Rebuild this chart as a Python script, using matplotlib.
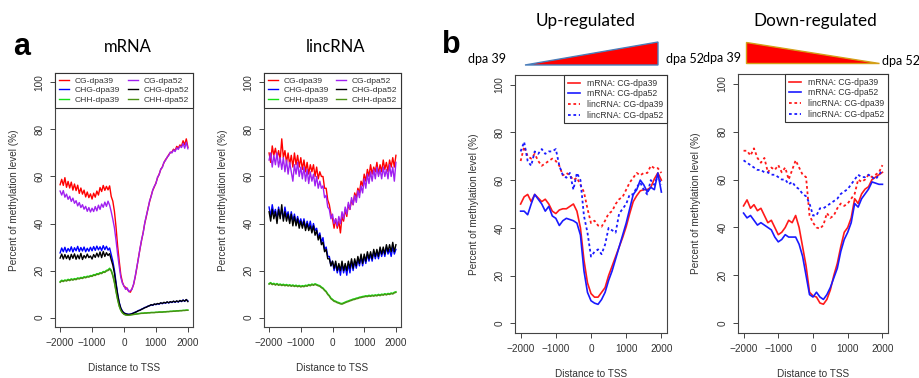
import matplotlib.pyplot as plt
from matplotlib.patches import Polygon
import numpy as np

plt.rcParams['font.family'] = ['Liberation Sans', 'DejaVu Sans']

W, H = 920, 378

# panel a: distance to TSS every 50 bp
pos_a = np.arange(-2000, 2001, 50)

mrna_cg39 = [56.5, 58.8, 56.2, 59.5, 55.4, 57.9, 55.1, 57.6, 54.2, 56.8,
             54.0, 56.3, 52.8, 55.1, 52.5, 54.2, 51.3, 53.4, 51.0, 52.6,
             50.4, 52.9, 51.2, 53.8, 52.1, 55.3, 53.6, 56.2, 54.1, 55.8,
             54.3, 56.0, 51.5, 49.5, 45.2, 38.6, 30.5, 24.1, 18.2, 15.1,
             13.3, 12.9, 12.1, 11.2, 10.8, 12.3, 14.0, 17.2, 21.0, 25.3,
             29.1, 32.8, 36.2, 40.1, 43.0, 46.4, 49.2, 51.8, 54.1, 55.6,
             57.3, 59.4, 61.0, 62.9, 64.1, 65.8, 67.2, 68.0, 69.3, 70.1,
             70.4, 71.6, 71.0, 72.8, 72.1, 73.4, 72.9, 75.2, 73.5, 76.0,
             72.4]
mrna_cg52 = [53.8, 52.1, 54.0, 51.2, 52.5, 50.3, 51.6, 49.4, 50.8, 48.6,
             49.7, 47.5, 48.9, 46.8, 48.0, 46.1, 47.3, 45.2, 46.8, 44.9,
             46.5, 45.1, 47.2, 45.4, 47.8, 46.0, 48.3, 46.9, 49.1, 47.3,
             49.5, 47.8, 45.0, 41.8, 38.2, 32.9, 27.0, 21.8, 17.1, 14.6,
             13.4, 12.0, 12.6, 11.0, 11.5, 12.0, 14.3, 17.5, 21.4, 25.0,
             29.4, 33.1, 36.0, 40.3, 43.4, 46.1, 49.6, 51.5, 54.3, 55.9,
             57.0, 59.8, 60.7, 63.2, 63.8, 66.1, 66.8, 68.3, 68.9, 70.4,
             70.0, 71.3, 70.6, 72.2, 71.5, 72.9, 72.3, 74.1, 72.0, 74.6,
             71.8]
mrna_chg39 = [27.5, 29.6, 28.0, 29.9, 27.8, 29.4, 28.2, 30.1, 27.9, 29.7,
              28.4, 30.3, 28.1, 29.8, 28.3, 30.0, 28.0, 29.5, 28.2, 29.9,
              28.4, 30.2, 28.6, 30.4, 28.8, 30.1, 28.5, 30.6, 28.9, 30.3,
              28.7, 29.6, 26.8, 24.0, 20.2, 15.0, 10.2, 6.5, 4.1, 2.8,
              2.0, 1.7, 1.5, 1.4, 1.5, 1.7, 2.0, 2.3, 2.6, 3.0,
              3.2, 3.6, 3.9, 4.3, 4.5, 4.9, 5.0, 5.4, 5.2, 5.7,
              5.5, 5.9, 5.7, 6.2, 5.9, 6.4, 6.1, 6.6, 6.2, 6.7,
              6.4, 6.9, 6.5, 7.0, 6.6, 7.2, 6.8, 7.5, 6.9, 7.6,
              7.1]
mrna_chg52 = [25.3, 27.0, 24.9, 26.8, 25.1, 26.5, 24.6, 26.9, 25.2, 27.1,
              24.8, 26.6, 25.0, 27.3, 24.7, 26.4, 25.3, 27.0, 25.5, 26.2,
              24.9, 26.8, 25.6, 27.4, 25.8, 27.9, 25.5, 28.1, 26.0, 27.6,
              26.4, 27.2, 24.6, 22.3, 18.9, 14.2, 9.8, 6.2, 3.9, 2.6,
              1.9, 1.6, 1.4, 1.3, 1.4, 1.6, 1.9, 2.2, 2.5, 2.9,
              3.1, 3.5, 3.8, 4.2, 4.4, 4.8, 5.1, 5.5, 5.3, 5.8,
              5.6, 6.0, 5.8, 6.3, 6.0, 6.5, 6.2, 6.7, 6.3, 6.8,
              6.5, 7.0, 6.6, 7.1, 6.7, 7.3, 6.9, 7.4, 7.0, 7.7,
              6.8]
mrna_chh39 = [15.3, 15.9, 15.6, 16.0, 15.8, 16.3, 16.0, 16.5, 16.2, 16.6,
              16.4, 16.9, 16.7, 17.1, 16.9, 17.4, 17.2, 17.6, 17.5, 17.9,
              17.8, 18.3, 18.2, 18.7, 18.6, 19.1, 19.0, 19.6, 19.5, 20.1,
              20.3, 21.0, 20.2, 18.1, 15.2, 11.4, 7.9, 5.0, 3.2, 2.1,
              1.5, 1.2, 1.1, 1.1, 1.2, 1.3, 1.4, 1.5, 1.6, 1.7,
              1.8, 1.9, 1.9, 2.0, 2.0, 2.1, 2.1, 2.2, 2.2, 2.2,
              2.3, 2.3, 2.4, 2.4, 2.4, 2.5, 2.5, 2.6, 2.6, 2.7,
              2.7, 2.8, 2.8, 2.9, 2.9, 3.0, 3.0, 3.1, 3.1, 3.2,
              3.2]
mrna_chh52 = [15.0, 15.6, 15.3, 15.8, 15.5, 16.0, 15.7, 16.2, 15.9, 16.3,
              16.1, 16.6, 16.4, 16.8, 16.6, 17.1, 16.9, 17.3, 17.2, 17.6,
              17.5, 18.0, 17.9, 18.4, 18.3, 18.8, 18.7, 19.3, 19.2, 19.8,
              20.0, 20.6, 19.8, 17.7, 14.8, 11.0, 7.6, 4.8, 3.0, 2.0,
              1.4, 1.1, 1.0, 1.0, 1.1, 1.2, 1.3, 1.4, 1.5, 1.6,
              1.7, 1.8, 1.8, 1.9, 1.9, 2.0, 2.0, 2.1, 2.1, 2.1,
              2.2, 2.2, 2.3, 2.3, 2.3, 2.4, 2.4, 2.5, 2.5, 2.6,
              2.6, 2.7, 2.7, 2.8, 2.8, 2.9, 2.9, 3.0, 3.0, 3.1,
              3.1]

linc_cg39 = [70, 66, 73, 69, 72, 68, 71, 67, 76, 68,
             71, 66, 70, 65, 69, 64, 70, 65, 69, 64,
             68, 63, 67, 62, 66, 61, 65, 62, 65, 60,
             64, 59, 62, 60, 60, 55, 55, 50, 48, 44,
             42, 38, 42, 38, 41, 36, 43, 41, 46, 43,
             48, 46, 50, 48, 53, 51, 55, 53, 58, 56,
             61, 58, 63, 60, 65, 61, 64, 62, 66, 61,
             65, 62, 67, 63, 66, 62, 67, 64, 68, 64,
             69]
linc_cg52 = [67, 70, 64, 69, 65, 70, 64, 68, 63, 68,
             62, 67, 61, 66, 62, 58, 65, 61, 66, 60,
             64, 59, 64, 58, 63, 57, 62, 58, 61, 56,
             60, 55, 58, 55, 56, 51, 52, 47, 46, 42,
             44, 40, 42, 39, 43, 40, 45, 42, 47, 44,
             49, 46, 51, 48, 52, 49, 54, 51, 56, 53,
             59, 55, 61, 57, 62, 58, 63, 59, 64, 60,
             63, 59, 64, 60, 63, 59, 65, 60, 64, 58,
             66]
linc_chg39 = [47, 43, 48, 44, 46, 42, 47, 43, 46, 42,
              47, 43, 45, 41, 45, 41, 44, 40, 43, 40,
              42, 39, 42, 38, 41, 38, 41, 37, 40, 37,
              38, 34, 36, 32, 34, 29, 30, 26, 26, 22,
              24, 20, 23, 19, 22, 18, 23, 19, 22, 18,
              23, 19, 24, 20, 24, 21, 25, 22, 26, 22,
              26, 23, 27, 24, 27, 24, 28, 25, 28, 25,
              29, 26, 29, 26, 30, 27, 29, 26, 30, 27,
              29]
linc_chg52 = [45, 41, 46, 42, 45, 40, 46, 42, 48, 41,
              45, 41, 44, 40, 44, 39, 43, 39, 42, 38,
              41, 38, 41, 37, 40, 37, 39, 36, 39, 35,
              37, 33, 35, 31, 32, 28, 29, 25, 25, 22,
              24, 21, 24, 20, 23, 20, 24, 20, 23, 20,
              24, 21, 25, 21, 25, 22, 26, 23, 27, 23,
              27, 24, 28, 25, 28, 25, 29, 26, 29, 26,
              30, 27, 30, 27, 31, 28, 31, 28, 32, 28,
              31]
linc_chh39 = [14.5, 14.9, 14.3, 14.6, 14.1, 14.5, 14.0, 14.3, 13.9, 14.2,
              13.8, 14.1, 13.7, 14.0, 13.6, 13.9, 13.5, 13.8, 13.4, 13.7,
              13.3, 13.6, 13.4, 13.8, 13.6, 14.1, 13.8, 14.3, 14.0, 14.4,
              14.1, 13.8, 13.6, 13.0, 12.6, 11.8, 11.2, 10.1, 9.4, 8.3,
              7.8, 7.2, 7.0, 6.6, 6.4, 6.1, 6.0, 6.3, 6.6, 6.9,
              7.1, 7.4, 7.6, 7.9, 8.0, 8.3, 8.4, 8.7, 8.8, 9.0,
              9.1, 9.3, 9.2, 9.5, 9.3, 9.6, 9.4, 9.7, 9.5, 9.9,
              9.6, 10.0, 9.8, 10.2, 9.9, 10.3, 10.1, 10.5, 10.3, 10.8,
              11.0]
linc_chh52 = [14.2, 14.6, 14.0, 14.3, 13.8, 14.2, 13.7, 14.0, 13.6, 13.9,
              13.5, 13.8, 13.4, 13.7, 13.3, 13.6, 13.2, 13.5, 13.1, 13.4,
              13.0, 13.3, 13.1, 13.5, 13.3, 13.8, 13.5, 14.0, 13.7, 14.1,
              13.8, 13.5, 13.3, 12.7, 12.3, 11.5, 10.9, 9.8, 9.1, 8.0,
              7.5, 6.9, 6.7, 6.3, 6.1, 5.8, 5.7, 6.0, 6.3, 6.6,
              6.8, 7.1, 7.3, 7.6, 7.7, 8.0, 8.1, 8.4, 8.5, 8.7,
              8.8, 9.0, 8.9, 9.2, 9.0, 9.3, 9.1, 9.4, 9.2, 9.6,
              9.3, 9.7, 9.5, 9.9, 9.6, 10.0, 9.8, 10.2, 10.0, 10.5,
              10.7]

# panel b: distance to TSS every 100 bp
pos_b = np.arange(-2000, 2001, 100)

up_mrna39 = [50, 53, 54, 51, 54, 52.5, 51, 52, 50, 47, 46, 47.5, 48, 48, 49, 50, 47, 40, 26.5, 17,
             12.5, 11, 11, 13, 15, 20, 24, 28, 32, 36, 40.5, 46, 51, 53.5, 55.5, 56, 56, 57, 60.5, 63, 60]
up_mrna52 = [47, 47, 45.5, 50, 54, 52, 50, 47, 49, 45, 44, 41, 43, 44, 43.5, 43, 42, 37, 22, 13,
             9.5, 8.5, 8, 10, 13, 18, 22, 27, 32, 37, 42, 48, 54, 56, 60, 58, 55, 57, 56, 63, 55]
up_linc39 = [68, 74, 70, 69, 71, 68, 66, 67, 68, 69, 68, 66, 62, 63, 62, 60, 61, 58, 55, 48,
             42, 43, 41, 40.5, 43, 46, 47, 50, 52, 53, 56, 59, 61, 63, 62, 63, 63, 66, 65, 65, 63]
up_linc52 = [72, 76, 68, 66, 72, 71, 73, 71, 72, 72, 73, 66, 62, 61, 63, 56, 63, 60, 45, 38,
             28, 30, 31, 29, 33, 40, 39, 38, 46, 48, 50, 54, 54, 57, 59, 56, 54, 60, 58, 62, 58]

down_mrna39 = [49, 51.5, 48, 49.5, 47, 48, 45, 42, 43, 40, 37, 38, 40, 43, 42, 45, 40, 32, 24, 13,
               11.5, 11, 8.5, 8, 10, 14, 20, 25, 32, 38, 40, 44, 52, 50, 54, 56, 57, 60, 61, 62, 63]
down_mrna52 = [46, 44, 45, 43, 41, 42, 41, 40, 39, 36, 34, 35, 37, 36, 36, 36, 33, 28, 20, 12,
               11, 13, 11, 10, 12, 15, 19, 23, 30, 35, 38, 42, 50, 48.5, 52, 54, 56, 59, 58.5, 58, 58]
down_linc39 = [72, 72, 70, 73, 69, 67, 69, 63, 65, 64, 66, 63, 65, 60, 64, 68, 65, 62, 61, 45,
               42, 40, 39.5, 41, 46, 44, 45, 48, 50, 49, 50, 52, 54, 60, 59, 60, 62, 61, 62, 63, 66]
down_linc52 = [68, 67, 66, 65, 64, 64, 63, 63, 62, 62, 61, 60, 60, 58, 59, 57, 56, 54, 53, 50,
               45, 45, 48, 48, 49, 50, 51, 52, 54, 55, 56, 58, 60, 62, 61, 61, 62, 61, 60, 62, 64]

labels_a = ['CG-dpa39', 'CHG-dpa39', 'CHH-dpa39', 'CG-dpa52', 'CHG-dpa52', 'CHH-dpa52']
colors_a = ['#ff0000', '#0000ff', '#14e014', '#a020f0', '#000000', '#4a8f14']
labels_b = ['mRNA: CG-dpa39', 'mRNA: CG-dpa52', 'lincRNA: CG-dpa39', 'lincRNA: CG-dpa52']

TXT = '#333333'
FS = 7.2

fig = plt.figure(figsize=(W / 100, H / 100), dpi=100)


def px_axes(left, top, right, bottom):
    return fig.add_axes([left / W, 1 - bottom / H, (right - left) / W, (bottom - top) / H])


def fig_text(x, y, s, **kw):
    fig.text(x / W, 1 - y / H, s, **kw)


def style_axes(ax, ylab_x, xlab_y):
    ax.set_xlim(-2160, 2160)
    ax.set_ylim(-4, 104)
    ax.set_xticks([-2000, -1000, 0, 1000, 2000])
    ax.set_yticks([0, 20, 40, 60, 80, 100])
    ax.tick_params(labelsize=FS, length=3.5, width=0.7, color='#444444',
                   labelcolor=TXT)
    ax.tick_params(axis='x', pad=4.5)
    ax.tick_params(axis='y', pad=4, labelrotation=90)
    plt.setp(ax.get_yticklabels(), va='center')
    for sp in ax.spines.values():
        sp.set_color('#444444')
        sp.set_linewidth(0.8)
    ax.set_xlabel('Distance to TSS', fontsize=FS, color=TXT)
    ax.set_ylabel('Percent of methylation level (%)', fontsize=FS, color=TXT)
    ax.yaxis.set_label_coords(ylab_x, 0.5)
    ax.xaxis.set_label_coords(0.5, xlab_y)


def panel_a(ax, series):
    for vals, col, lab in zip(series, colors_a, labels_a):
        ax.plot(pos_a, vals, color=col, lw=1.0, label=lab)
    leg = ax.legend(ncol=2, loc='upper left', bbox_to_anchor=(0, 0, 1, 1), mode='expand',
                    borderaxespad=0, fontsize=6.1, handlelength=1.2, handletextpad=0.7,
                    labelspacing=0.2, columnspacing=0.8, borderpad=0.45,
                    fancybox=False, framealpha=1, edgecolor='#333333')
    leg.get_frame().set_linewidth(0.8)
    for t in leg.get_texts():
        t.set_color(TXT)


def panel_b(ax, m39, m52, l39, l52):
    ax.plot(pos_b, m39, color='#ff1a1a', lw=1.2, label=labels_b[0])
    ax.plot(pos_b, m52, color='#1a1aff', lw=1.2, label=labels_b[1])
    ax.plot(pos_b, l39, color='#ff1a1a', lw=1.3, ls=(0, (1.5, 1.5)), label=labels_b[2])
    ax.plot(pos_b, l52, color='#1a1aff', lw=1.3, ls=(0, (1.5, 1.5)), label=labels_b[3])
    leg = ax.legend(loc='upper right', borderaxespad=0, fontsize=6.2, handlelength=1.4,
                    handletextpad=0.8, labelspacing=0.18, borderpad=0.45,
                    fancybox=False, framealpha=1, edgecolor='#333333')
    leg.get_frame().set_linewidth(0.8)
    for t in leg.get_texts():
        t.set_color(TXT)


ax1 = px_axes(55, 73, 193, 327)
panel_a(ax1, [mrna_cg39, mrna_chg39, mrna_chh39, mrna_cg52, mrna_chg52, mrna_chh52])
style_axes(ax1, -0.26, -0.14)

ax2 = px_axes(264, 73, 401, 327)
panel_a(ax2, [linc_cg39, linc_chg39, linc_chh39, linc_cg52, linc_chg52, linc_chh52])
style_axes(ax2, -0.26, -0.14)

ax3 = px_axes(515, 75, 667, 333)
panel_b(ax3, up_mrna39, up_mrna52, up_linc39, up_linc52)
style_axes(ax3, -0.237, -0.14)

ax4 = px_axes(738, 74, 888, 333)
panel_b(ax4, down_mrna39, down_mrna52, down_linc39, down_linc52)
style_axes(ax4, -0.247, -0.14)

# titles and panel letters
fig_text(22, 47, 'a', fontsize=22, fontweight='bold', ha='center', va='center')
fig_text(451, 45, 'b', fontsize=22, fontweight='bold', ha='center', va='center')
fig_text(128, 47, 'mRNA', fontsize=12, family='Lato', ha='center', va='center')
fig_text(336, 47, 'lincRNA', fontsize=12, family='Lato', ha='center', va='center')
fig_text(586, 21, 'Up-regulated', fontsize=12.3, family='Lato', ha='center', va='center')
fig_text(815, 21, 'Down-regulated', fontsize=12.3, family='Lato', ha='center', va='center')

# stage wedges
up_tri = Polygon([(525 / W, 1 - 65 / H), (658 / W, 1 - 42 / H), (658 / W, 1 - 65 / H)],
                 closed=True, transform=fig.transFigure, facecolor='#ff0000',
                 edgecolor='#4a7ebb', lw=1.0)
down_tri = Polygon([(746 / W, 1 - 42 / H), (746 / W, 1 - 63 / H), (879 / W, 1 - 63 / H)],
                   closed=True, transform=fig.transFigure, facecolor='#ff0000',
                   edgecolor='#d4a017', lw=1.0)
fig.patches.extend([up_tri, down_tri])

fig_text(487, 59, 'dpa 39', fontsize=9, family='Lato', ha='center', va='center')
fig_text(685, 59, 'dpa 52', fontsize=9, family='Lato', ha='center', va='center')
fig_text(722, 58, 'dpa 39', fontsize=9, family='Lato', ha='center', va='center')
fig_text(901, 61, 'dpa 52', fontsize=9, family='Lato', ha='center', va='center')

fig.savefig('out.png', dpi=100)
